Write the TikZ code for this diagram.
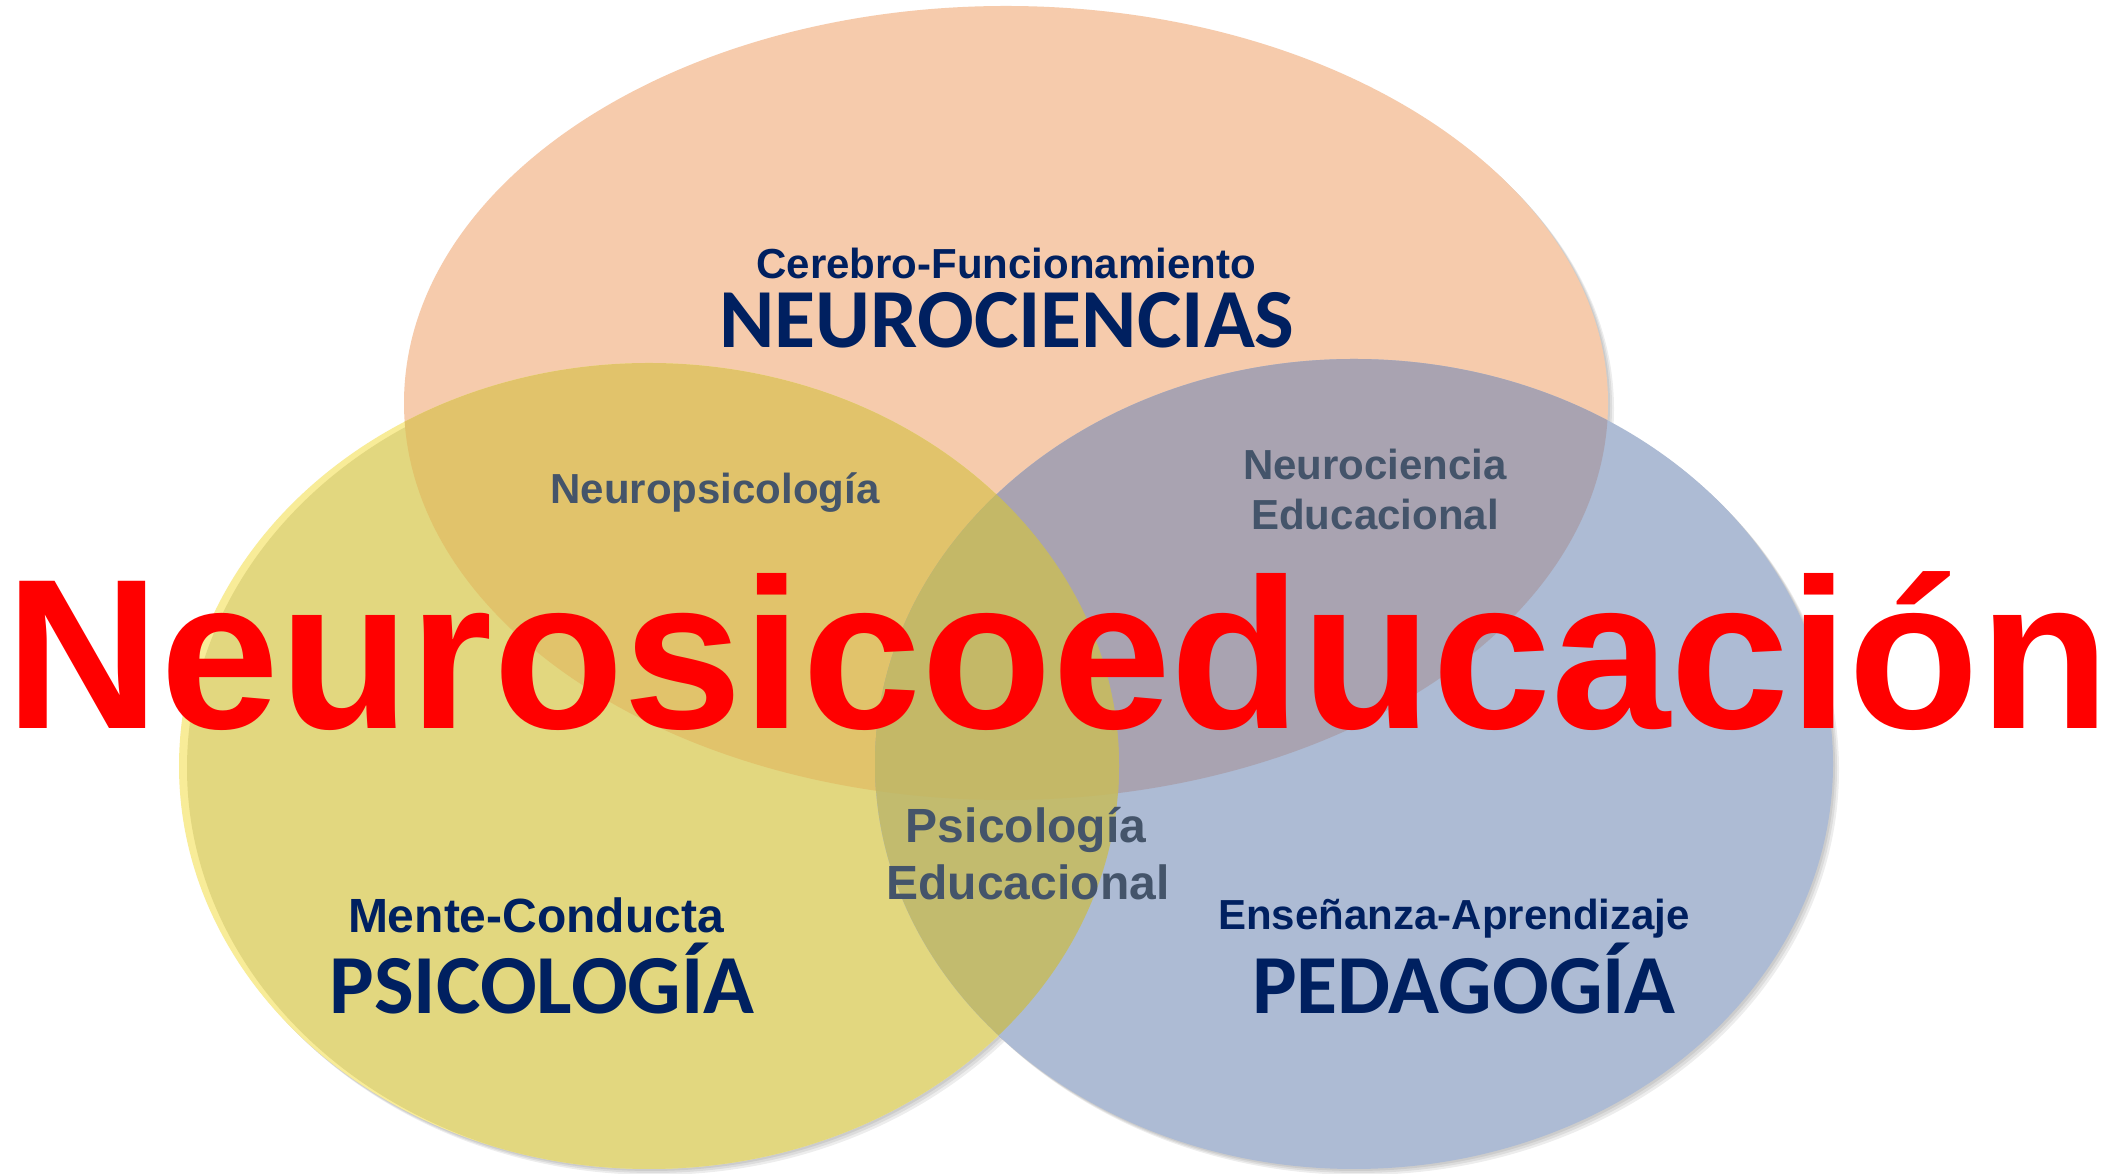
\documentclass[tikz,border=0pt]{standalone}
\usepackage{fontspec}
\newfontfamily\arialfont{Liberation Sans}
\newfontfamily\calibrifont{Carlito}
\definecolor{orangefill}{HTML}{F6CBAC}
\definecolor{yellowfill}{HTML}{E2D77F}
\definecolor{yellowrim}{HTML}{F8EC98}
\definecolor{bluefill}{HTML}{ADBBD4}
\definecolor{oyfill}{HTML}{E1C36B}
\definecolor{obfill}{HTML}{A9A3B1}
\definecolor{ybfill}{HTML}{C2BB6E}
\definecolor{oybfill}{HTML}{C4B867}
\definecolor{navytext}{HTML}{002060}
\definecolor{slatetext}{HTML}{44546A}
\newcommand{\elltop}{(1006,771) ellipse [x radius=602, y radius=397]}
\newcommand{\ellleft}{(649,408) ellipse [x radius=470, y radius=403]}
\newcommand{\ellright}{(1354,410) ellipse [x radius=479, y radius=405]}

\begin{document}
\begin{tikzpicture}[x=1pt, y=1pt,
        sublabel/.style={anchor=base, inner sep=0pt, text=navytext, font=\arialfont\bfseries\fontsize{#1}{#1}\selectfont},
        mainlabel/.style={anchor=base, inner sep=0pt, text=navytext, font=\calibrifont\bfseries\fontsize{84}{84}\selectfont},
        joinlabel/.style={anchor=base, inner sep=0pt, text=slatetext, font=\arialfont\bfseries\fontsize{#1}{#1}\selectfont},
        fieldshadow/.style={fill=black, fill opacity=0.07}]
    \fill[white] (0,0) rectangle (2126,1174);
    \useasboundingbox (0,0) rectangle (2126,1174);

    % soft shadows under the fields
    \foreach \d in {2,4,6} {
        \fill[fieldshadow, shift={(\d,-\d)}] \elltop;
        \fill[fieldshadow, shift={(\d,-\d)}] \ellleft;
        \fill[fieldshadow, shift={(\d,-\d)}] \ellright;
    }

    % the three fields
    \fill[orangefill] \elltop;
    \fill[yellowrim] \ellleft;
    \begin{scope}
        \clip \ellleft;
        \fill[yellowfill] (655,406) ellipse [x radius=468, y radius=403];
    \end{scope}
    \fill[bluefill] \ellright;
    \begin{scope}
        \clip \elltop;
        \fill[oyfill] \ellleft;
        \fill[obfill] \ellright;
    \end{scope}
    \begin{scope}
        \clip \ellleft;
        \fill[ybfill] \ellright;
    \end{scope}
    \begin{scope}
        \clip \elltop;
        \clip \ellleft;
        \fill[oybfill] \ellright;
    \end{scope}

    % field names
    \node[sublabel=42] (cerebro) at (1006,895) {Cerebro-Funcionamiento};
    \node[mainlabel] (neuro) at (1007,826) {NEUROCIENCIAS};
    \node[sublabel=48] (mente) at (536,241) {Mente-Conducta};
    \node[mainlabel] (psico) at (542,160) {PSICOLOGÍA};
    \node[sublabel=42] (ensen) at (1454,244) {Enseñanza-Aprendizaje};
    \node[mainlabel] (pedag) at (1464,160) {PEDAGOGÍA};

    % overlaps
    \node[joinlabel=42] (neuropsi) at (715,670) {Neuropsicología};
    \node[joinlabel=42] (neuroedu1) at (1375,694) {Neurociencia};
    \node[joinlabel=42] (neuroedu2) at (1375,644) {Educacional};
    \node[joinlabel=48] (psiedu1) at (1026,331) {Psicología};
    \node[joinlabel=48] (psiedu2) at (1028,274) {Educacional};

    % title across the middle
    \node[anchor=base, inner sep=0pt, text=red, font=\arialfont\bfseries\fontsize{214}{214}\selectfont] (title) at (1058,445) {Neurosicoeducación};
\end{tikzpicture}
\end{document}
